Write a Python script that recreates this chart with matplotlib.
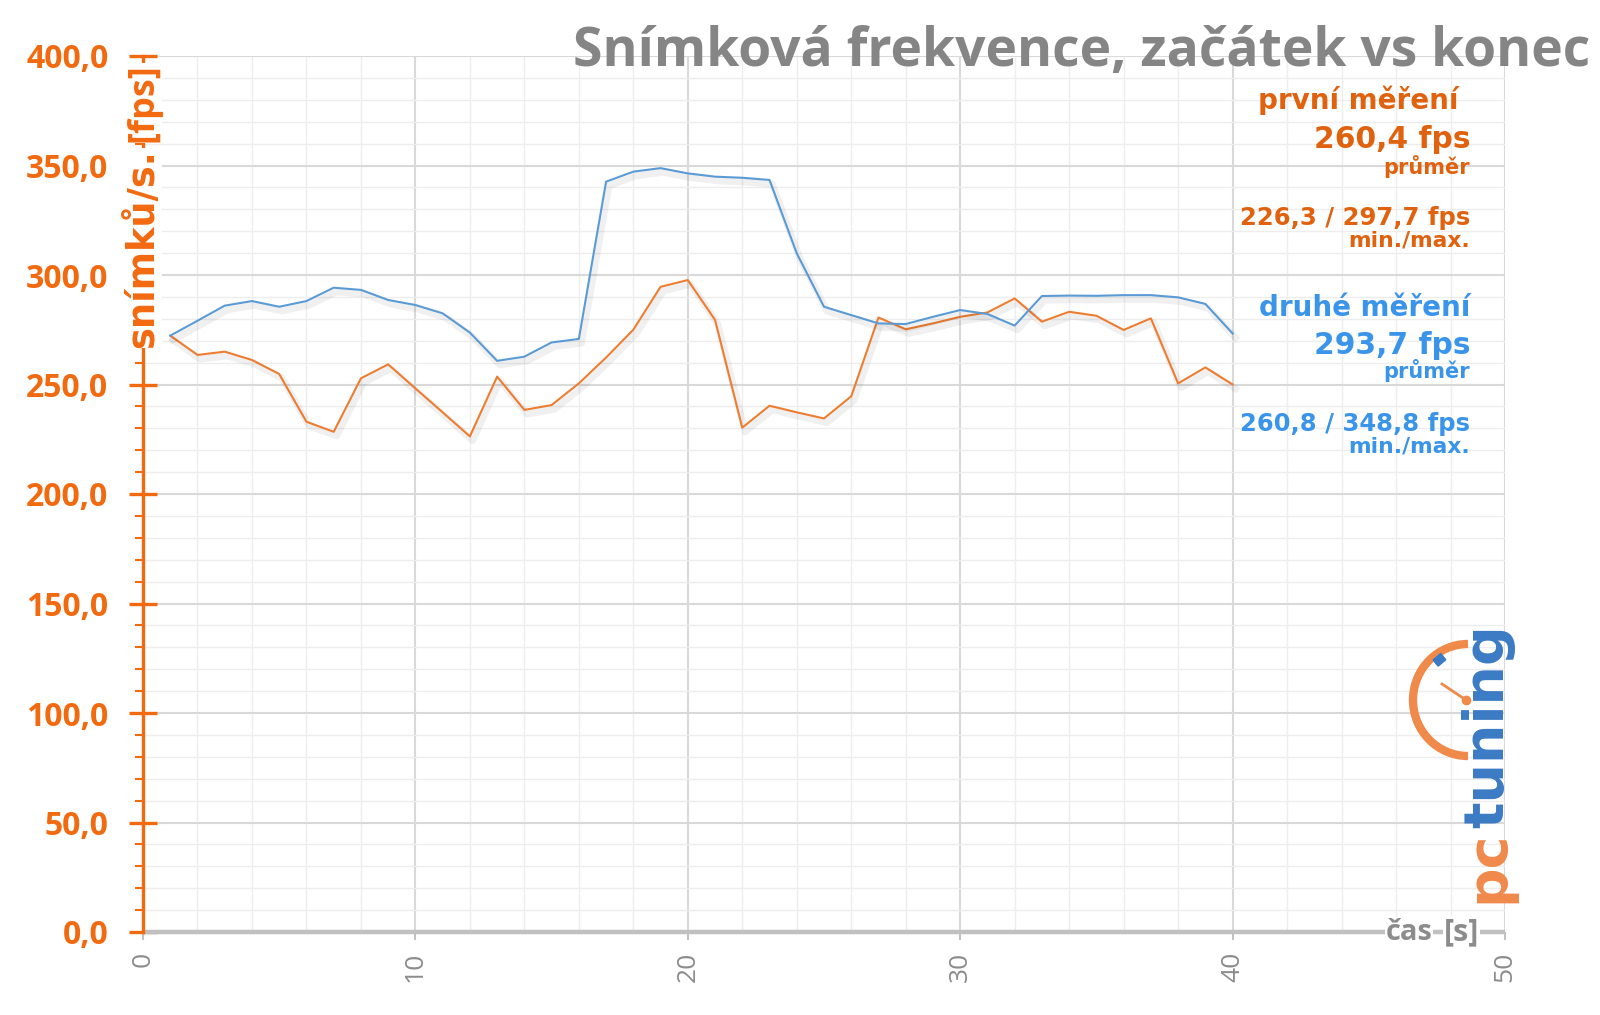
import matplotlib
matplotlib.use('Agg')
import matplotlib.pyplot as plt
import matplotlib.patheffects as pe
from matplotlib.patches import Arc, Rectangle

time_s = list(range(1, 41))
first_fps = [272.3, 263.5, 265.0, 261.2, 254.8, 233.0, 228.4, 252.8, 259.2, 248.2,
             237.3, 226.3, 253.6, 238.4, 240.6, 250.5, 262.3, 275.0, 294.6, 297.7,
             279.5, 230.3, 240.3, 237.3, 234.5, 244.6, 280.6, 275.2, 277.9, 280.9,
             282.9, 289.3, 278.7, 283.2, 281.4, 274.9, 280.2, 250.5, 257.8, 250.0]
second_fps = [272.3, 279.1, 286.0, 288.1, 285.5, 288.1, 294.2, 293.2, 288.6, 286.3,
              282.5, 273.7, 260.8, 262.7, 269.2, 270.8, 342.6, 347.2, 348.8, 346.4,
              344.9, 344.4, 343.4, 309.9, 285.5, 281.7, 277.9, 277.6, 280.9, 284.0,
              282.2, 276.9, 290.4, 290.6, 290.5, 290.8, 290.8, 289.8, 286.8, 273.3]
y_ticks = [0, 50, 100, 150, 200, 250, 300, 350, 400]
y_tick_labels = ["0,0", "50,0", "100,0", "150,0", "200,0", "250,0", "300,0", "350,0", "400,0"]
x_ticks = [0, 10, 20, 30, 40, 50]
x_tick_labels = ["0", "10", "20", "30", "40", "50"]

title = "Snímková frekvence, začátek vs konec"
ylabel_a, ylabel_b = "snímků/s.", "[fps]"
xlabel_a, xlabel_b = "čas", "[s]"

ORANGE_AX = '#f26a10'
ORANGE_TX = '#e0620e'
ORANGE_LN = '#ed7d31'
BLUE_LN = '#5b9bd5'
BLUE_TX = '#3a94ea'
GRAY = '#8c8c8c'

W, H = 1600, 1015
fig = plt.figure(figsize=(W / 100, H / 100), dpi=100)
FONT = ['Open Sans', 'DejaVu Sans']
WIDE = ['DejaVu Sans']
plt.rcParams['font.family'] = FONT

x0, x1, y0, y1 = 143, 1505, 932, 56
ax = fig.add_axes([x0 / W, 1 - y0 / H, (x1 - x0) / W, (y0 - y1) / H])
ax.set_xlim(0, 50)
ax.set_ylim(0, 400)
for s in ['top', 'right', 'bottom']:
    ax.spines[s].set_visible(False)
ax.spines['left'].set_color(ORANGE_AX)
ax.spines['left'].set_linewidth(2.4)
ax.spines['left'].set_zorder(5)

# grid
for v in range(2, 51, 2):
    major = v % 10 == 0
    ax.axvline(v, color='#d9d9d9' if major else '#eeeeee', lw=1.5 if major else 1.0, zorder=0)
for v in range(10, 401, 10):
    major = v % 50 == 0
    ax.axhline(v, color='#d9d9d9' if major else '#ededed', lw=1.5 if major else 1.0, zorder=0)

# x axis line
ax.plot([0, 50], [0, 0], color='#c0c0c0', lw=3.2, zorder=4, clip_on=False, solid_capstyle='butt')

shadow = [pe.SimpleLineShadow(offset=(2, -3), shadow_color='#000000', alpha=0.06, linewidth=5),
          pe.Normal()]
ax.plot(time_s, first_fps, color=ORANGE_LN, lw=1.5, zorder=3, path_effects=shadow)
ax.plot(time_s, second_fps, color=BLUE_LN, lw=1.5, zorder=3, path_effects=shadow)

ax.set_yticks(y_ticks)
ax.set_yticklabels(y_tick_labels)
ax.set_yticks(range(0, 401, 10), minor=True)
ax.tick_params(axis='y', which='major', direction='inout', length=20, width=2.4,
               color=ORANGE_AX, labelcolor=ORANGE_AX, labelsize=23, pad=15)
ax.tick_params(axis='y', which='minor', direction='out', length=6, width=1.5, color=ORANGE_AX)
for t in ax.get_yticklabels():
    t.set_fontweight('bold')

ax.set_xticks(x_ticks)
ax.set_xticklabels(x_tick_labels, rotation=90)
ax.tick_params(axis='x', which='major', direction='out', length=6, width=1.5,
               color='#c0c0c0', labelcolor=GRAY, labelsize=19, pad=8)
ax.tick_params(axis='x', which='minor', length=0)


def px(x, y):
    return x / W, 1 - y / H


# title
fig.text(*px(1590, 66), title, ha='right', va='baseline', fontsize=38.5, fontweight='bold',
         color='#858585')

# y label (two pieces with white boxes over the axis)
bb = dict(facecolor='white', edgecolor='none', pad=0.5)
fig.text(*px(143, 149), ylabel_a, rotation=90, ha='center', va='top', fontsize=26.5,
         fontweight='bold', color=ORANGE_AX, bbox=bb, zorder=10, family=WIDE)
fig.text(*px(143, 142), ylabel_b, rotation=90, ha='center', va='bottom', fontsize=26,
         fontweight='bold', color=ORANGE_AX, bbox=bb, zorder=10)

# x label
fig.text(*px(1386, 932), xlabel_a, ha='left', va='center', fontsize=21, fontweight='bold',
         color=GRAY, bbox=bb, zorder=10)
fig.text(*px(1444, 932), xlabel_b, ha='left', va='center', fontsize=22, fontweight='bold',
         color=GRAY, bbox=bb, zorder=10)

# annotations
R = 1470
ann = [
    ("první měření", 1459, 109, 20, ORANGE_TX),
    ("260,4 fps", R, 148, 21.4, ORANGE_TX),
    ("průměr", R, 174, 15, ORANGE_TX),
    ("226,3 / 297,7 fps", R, 225, 17.5, ORANGE_TX),
    ("min./max.", R, 247, 15.7, ORANGE_TX),
    ("druhé měření", R, 316, 20, BLUE_TX),
    ("293,7 fps", R, 354, 21.4, BLUE_TX),
    ("průměr", R, 378, 15, BLUE_TX),
    ("260,8 / 348,8 fps", R, 431, 17.5, BLUE_TX),
    ("min./max.", R, 452, 15.7, BLUE_TX),
]
for s, x, y, fs, c in ann:
    fig.text(*px(x, y), s, ha='right', va='baseline', fontsize=fs, fontweight='bold', color=c,
             family=WIDE)

# logo
lax = fig.add_axes([0, 0, 1, 1], facecolor='none')
lax.set_xlim(0, W)
lax.set_ylim(H, 0)
lax.axis('off')
lax.add_patch(Arc((1468, 700), 110, 112, theta1=90, theta2=270, color='#f08a4b', lw=6))
lax.add_patch(Rectangle((1433, 660), 10, 8, angle=-40, color='#3b7bc4'))
lax.plot([1442, 1466], [684, 700], color='#f08a4b', lw=2)
lax.plot([1466], [700], 'o', color='#f08a4b', ms=6)
lax.text(1488, 903, "pc", rotation=90, ha='center', va='bottom', fontsize=40,
         fontweight='bold', color='#f08a4b', family=['DejaVu Sans'])
lax.text(1488, 828, "tuning", rotation=90, ha='center', va='bottom', fontsize=40,
         fontweight='bold', color='#3b7bc4', family=['DejaVu Sans'])

fig.savefig('out.png', dpi=100, facecolor='white')
